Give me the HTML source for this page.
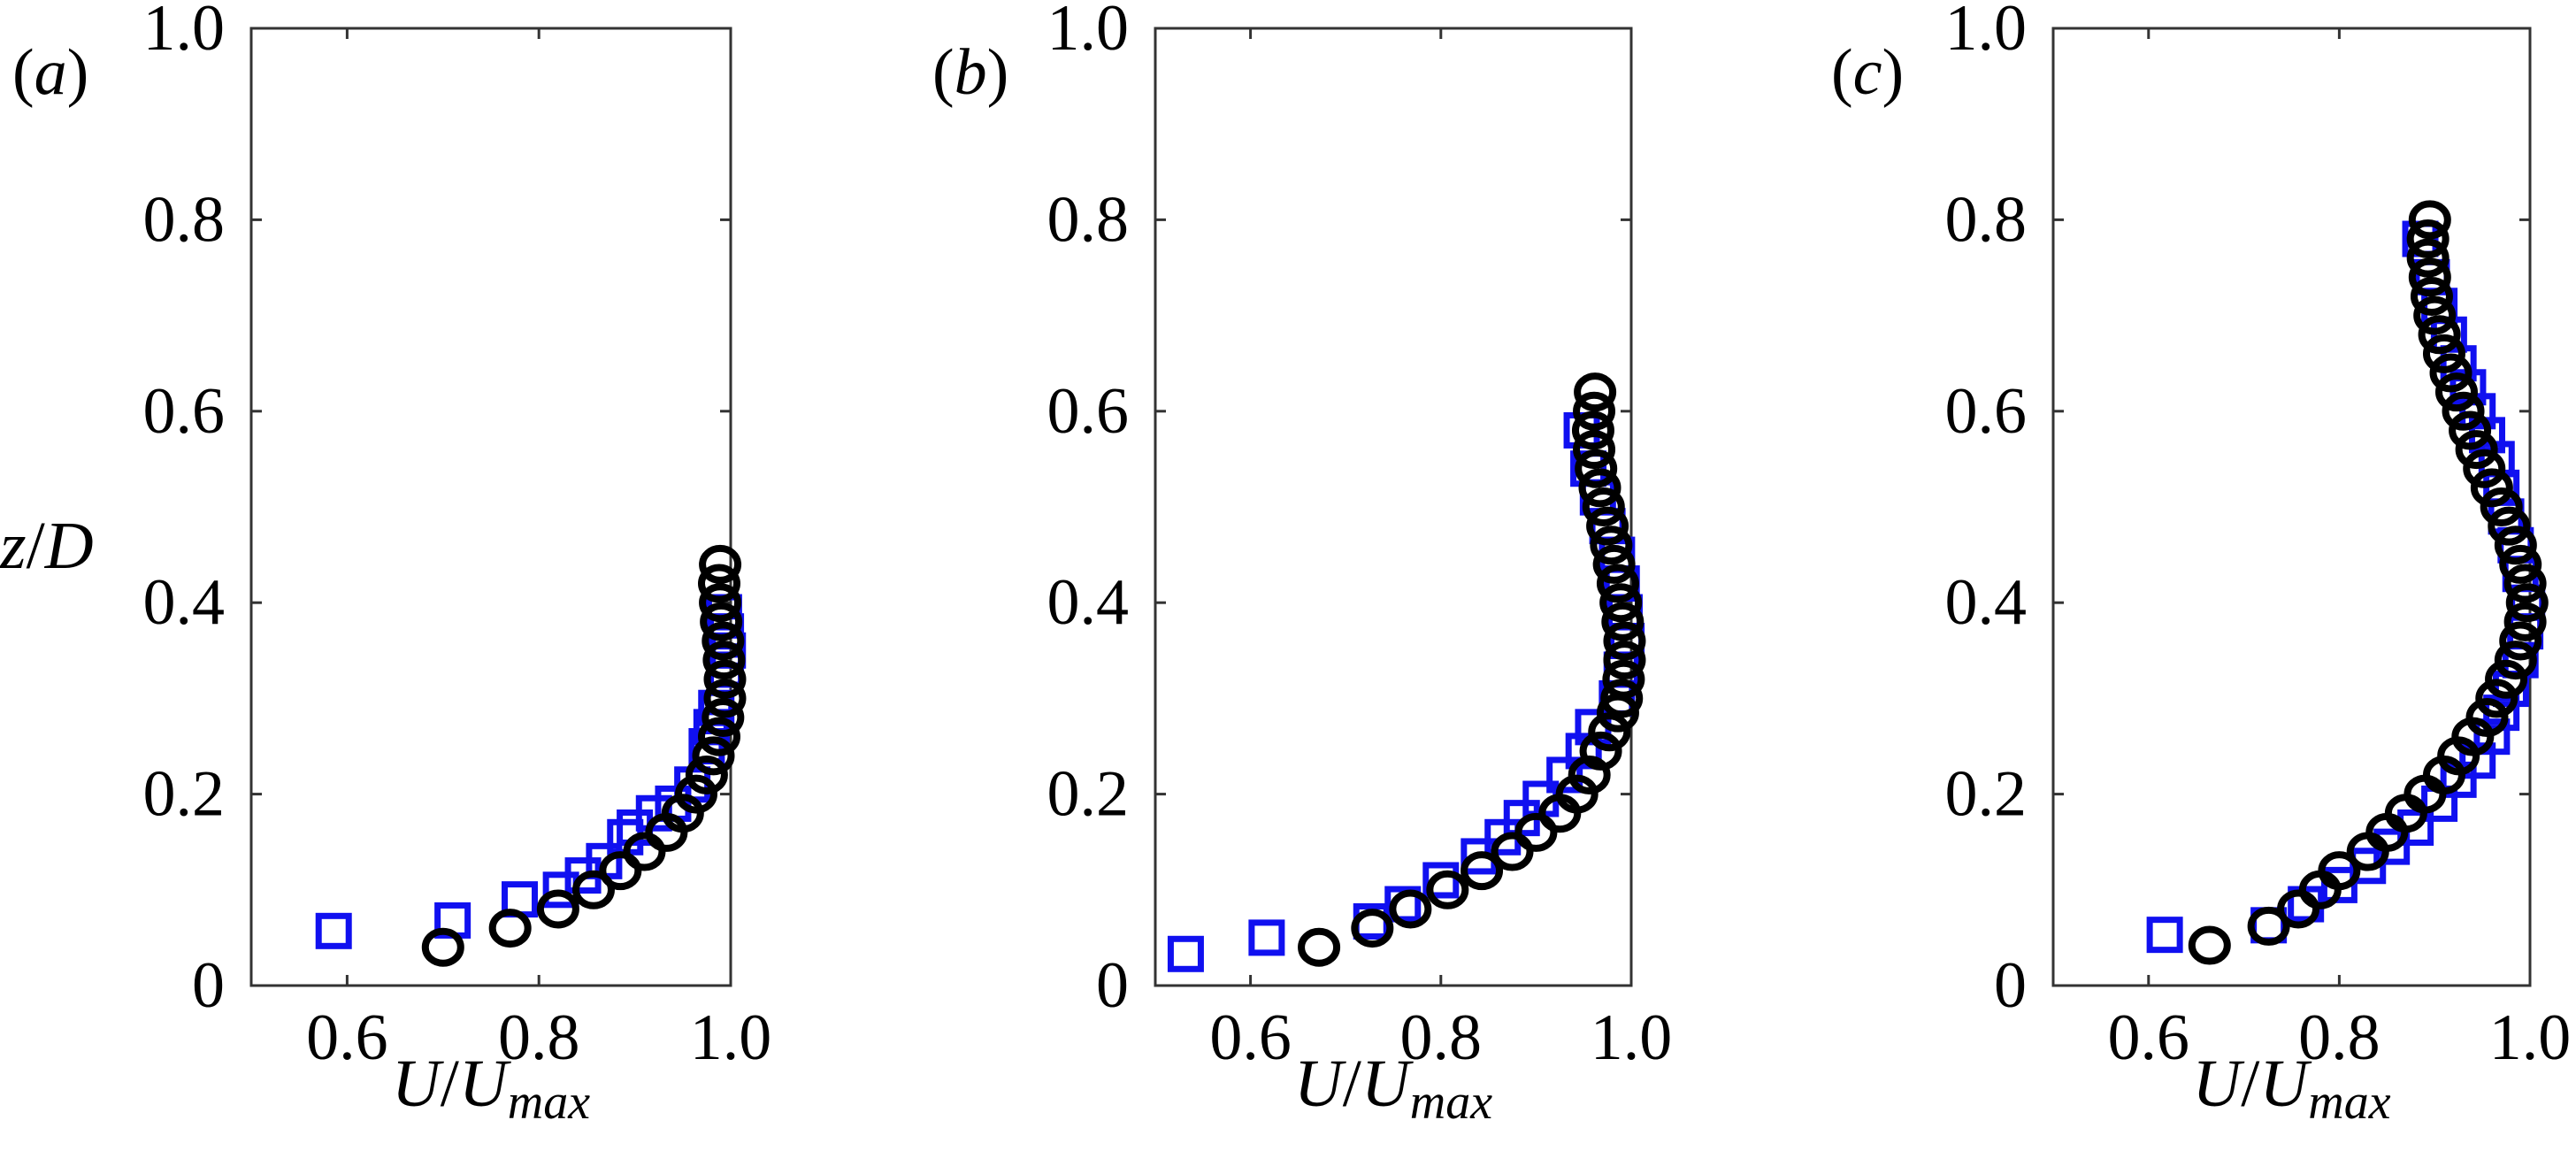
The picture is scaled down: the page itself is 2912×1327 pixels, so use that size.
<!DOCTYPE html>
<html><head><meta charset="utf-8"><style>
html,body{margin:0;padding:0;background:#fff;}
svg{display:block;}
text{font-family:"Liberation Serif","DejaVu Serif",serif;fill:#000;}
</style></head><body>
<svg id="fig" width="2912" height="1327" viewBox="0 0 2912 1327" xmlns="http://www.w3.org/2000/svg"></svg>
<script>
// Panel (a)
const aCircX=[0.70,0.77,0.82,0.857,0.885,0.91,0.933,0.95,0.964,0.975,0.982,0.988,0.992,0.994,0.994,0.993,0.992,0.99,0.989,0.988,0.989];
const aCircZ=[0.04,0.06,0.08,0.10,0.12,0.14,0.16,0.18,0.20,0.22,0.24,0.26,0.28,0.30,0.32,0.34,0.36,0.38,0.40,0.42,0.44];
const aSqX=[0.586,0.71,0.78,0.823,0.846,0.868,0.89,0.90,0.92,0.94,0.96,0.975,0.98,0.985,0.995,0.997,0.995,0.993];
const aSqZ=[0.057,0.068,0.09,0.10,0.115,0.13,0.155,0.165,0.18,0.19,0.21,0.25,0.27,0.29,0.33,0.35,0.37,0.39];
// Panel (b)
const bCircX=[0.672,0.728,0.768,0.807,0.843,0.875,0.90,0.925,0.943,0.956,0.968,0.977,0.986,0.99,0.992,0.993,0.993,0.991,0.989,0.986,0.982,0.979,0.975,0.971,0.967,0.963,0.961,0.960,0.961,0.962];
const bCircZ=[0.04,0.06,0.08,0.10,0.12,0.14,0.16,0.18,0.20,0.22,0.245,0.265,0.285,0.30,0.32,0.34,0.36,0.38,0.40,0.42,0.44,0.46,0.48,0.50,0.52,0.54,0.56,0.58,0.60,0.62];
const bSqX=[0.532,0.617,0.727,0.76,0.80,0.84,0.865,0.885,0.905,0.93,0.95,0.96,0.985,0.99,0.995,0.993,0.99,0.985,0.975,0.965,0.955,0.948];
const bSqZ=[0.033,0.05,0.067,0.085,0.11,0.135,0.155,0.175,0.195,0.22,0.245,0.27,0.30,0.33,0.36,0.39,0.42,0.45,0.48,0.51,0.54,0.58];
// Panel (c)
const cCircX=[0.664,0.726,0.757,0.78,0.80,0.83,0.85,0.87,0.89,0.91,0.925,0.94,0.955,0.965,0.975,0.985,0.99,0.995,0.997,0.995,0.99,0.985,0.978,0.97,0.96,0.952,0.944,0.937,0.93,0.923,0.917,0.91,0.905,0.90,0.897,0.895,0.893,0.893,0.895];
const cCircZ=[0.042,0.062,0.08,0.10,0.12,0.14,0.16,0.18,0.20,0.22,0.24,0.26,0.28,0.30,0.32,0.34,0.36,0.38,0.40,0.42,0.44,0.46,0.48,0.50,0.52,0.54,0.56,0.58,0.60,0.62,0.64,0.66,0.68,0.70,0.72,0.74,0.76,0.78,0.80];
const cSqX=[0.617,0.726,0.765,0.80,0.83,0.855,0.88,0.905,0.925,0.945,0.96,0.97,0.98,0.99,0.995,0.997,0.99,0.985,0.975,0.97,0.965,0.955,0.945,0.935,0.925,0.915,0.905,0.897,0.885];
const cSqZ=[0.053,0.063,0.085,0.105,0.125,0.145,0.165,0.19,0.215,0.235,0.26,0.285,0.31,0.34,0.37,0.40,0.43,0.46,0.49,0.52,0.55,0.575,0.60,0.625,0.65,0.68,0.71,0.74,0.78];
const xTickVals=[0.6,0.8,1.0];
const xTickLabels=["0.6","0.8","1.0"];
const yTickVals=[0,0.2,0.4,0.6,0.8,1.0];
const yTickLabels=["0","0.2","0.4","0.6","0.8","1.0"];
const panelLabels=["a","b","c"];

const NS="http://www.w3.org/2000/svg";
const svg=document.getElementById('fig');
function mk(tag,attrs,parent){const e=document.createElementNS(NS,tag);for(const k in attrs)e.setAttribute(k,attrs[k]);(parent||svg).appendChild(e);return e;}
const FF='"Liberation Serif","DejaVu Serif",serif';

const panels=[
 {L:284,R:826,cx:aCircX,cz:aCircZ,sx:aSqX,sz:aSqZ,labX:14},
 {L:1306,R:1844,cx:bCircX,cz:bCircZ,sx:bSqX,sz:bSqZ,labX:1054},
 {L:2321,R:2860,cx:cCircX,cz:cCircZ,sx:cSqX,sz:cSqZ,labX:2070}
];
const T=32,B=1114;

panels.forEach((p,i)=>{
 const g=mk('g',{"font-family":FF});
 
 
 const xs=v=>p.L+(v-0.5)/0.5*(p.R-p.L);
 const ys=v=>B-v*(B-T);
 const box=mk('rect',{x:p.L,y:T,width:p.R-p.L,height:B-T,fill:'none',stroke:'#333',"stroke-width":3},g);
 
 
 yTickVals.forEach((v,k)=>{
  const y=ys(v);
  mk('line',{x1:p.L,x2:p.L+12,y1:y,y2:y,stroke:'#333',"stroke-width":3},g);
  mk('line',{x1:p.R,x2:p.R-12,y1:y,y2:y,stroke:'#333',"stroke-width":3},g);
  const t=mk('text',{x:p.L-30,y:y+24,"text-anchor":"end","font-size":74},g);
  t.textContent=yTickLabels[k];
  
  
 });
 xTickVals.forEach((v,k)=>{
  const x=xs(v);
  mk('line',{x1:x,x2:x,y1:B,y2:B-12,stroke:'#333',"stroke-width":3},g);
  mk('line',{x1:x,x2:x,y1:T,y2:T+12,stroke:'#333',"stroke-width":3},g);
  const t=mk('text',{x:x,y:1197,"text-anchor":"middle","font-size":74},g);
  t.textContent=xTickLabels[k];
  
  
 });
 const xl=mk('text',{x:(p.L+p.R)/2,y:1250,"text-anchor":"middle","font-size":76,"font-style":"italic"},g);
 xl.innerHTML='U<tspan font-style="normal">/</tspan>U<tspan font-size="56" dy="14">max</tspan>';
 
 
 const pl=mk('text',{x:p.labX,y:106,"font-size":74},g);
 pl.innerHTML='(<tspan font-style="italic">'+panelLabels[i]+'</tspan>)';
 
 
 p.sx.forEach((v,k)=>{
  const s=mk('rect',{x:xs(v)-17,y:ys(p.sz[k])-17,width:34,height:34,fill:'none',stroke:'#1010f0',"stroke-width":7},g);
  
  
 });
 p.cx.forEach((v,k)=>{
  const c=mk('ellipse',{cx:xs(v),cy:ys(p.cz[k]),rx:20,ry:18,fill:'none',stroke:'#000',"stroke-width":8},g);
  
  
 });
});
const yl=mk('text',{x:0,y:642,"font-size":76,"font-style":"italic","font-family":FF});
yl.innerHTML='z<tspan font-style="normal">/</tspan>D';


</script>
</body></html>
